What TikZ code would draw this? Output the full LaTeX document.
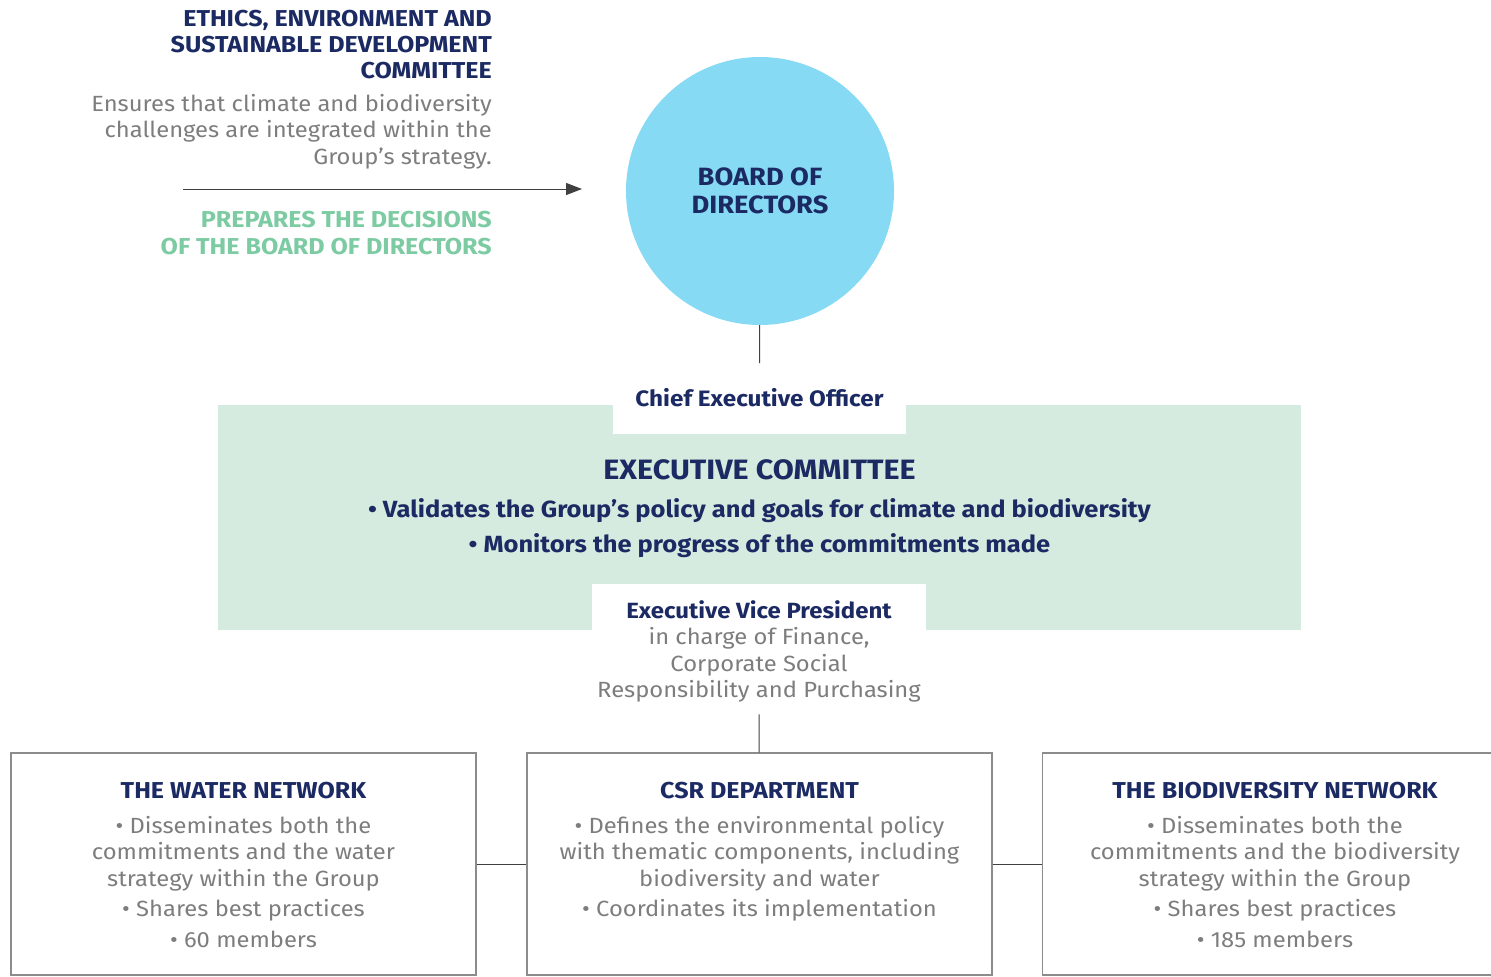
\documentclass[tikz,border=0pt]{standalone}
\usepackage{fontspec}
\setmainfont{Fira Sans}[FakeStretch=1.08,BoldFeatures={FakeStretch=1.09}]
\usetikzlibrary{arrows.meta,backgrounds}

\definecolor{navy}{HTML}{1B2A63}
\definecolor{greytext}{HTML}{7D7D7D}
\definecolor{mint}{HTML}{7CCBA2}
\definecolor{mintfill}{HTML}{D6EBDF}
\definecolor{sky}{HTML}{87DAF4}
\definecolor{boxline}{HTML}{8C8C8C}

\begin{document}
\begin{tikzpicture}[x=1pt,y=-1pt,
		heading/.style={
			font=\bfseries\fontsize{23}{26}\selectfont,text=navy,inner sep=0pt,
		},
		remark/.style={
			font=\fontsize{22}{26.5}\selectfont,text=greytext,inner sep=0pt,
		},
		tab/.style={
			fill=white,inner sep=0pt,
		},
		netbox/.style={
			draw=boxline,line width=1.2pt,minimum width=465pt,minimum height=222pt,
		},
		link/.style={
			draw=black!75,line width=1pt,
		},
	]
	\useasboundingbox (0,0) rectangle (1491,977);

	% committee preparing the board's decisions
	\node[heading,anchor=north east,align=right] (eesd) at (492,10)
		{ETHICS, ENVIRONMENT AND\\SUSTAINABLE DEVELOPMENT\\COMMITTEE};
	\node[remark,anchor=north east,align=right] (eesdtext) at (492,94)
		{Ensures that climate and biodiversity\\challenges are integrated within the\\Group’s strategy.};
	\node[heading,text=mint,anchor=north east,align=right,font=\bfseries\fontsize{23}{27}\selectfont] (prepares) at (492,211)
		{PREPARES THE DECISIONS\\OF THE BOARD OF DIRECTORS};
	\coordinate (arrowtail) at (183,189);
	\coordinate (arrowtip) at (582,189);
	\draw[link,-{Triangle[length=16pt,width=12pt]}] (arrowtail) -- (arrowtip);

	% board
	\node[circle,fill=sky,minimum size=268pt,align=center,text=navy,
		font=\bfseries\fontsize{25}{28}\selectfont] (board) at (760,191) {BOARD OF\\DIRECTORS};

	% executive committee with its two tabs
	\node[fill=mintfill,minimum width=1083pt,minimum height=225pt,inner sep=0pt] (exco) at (759.5,517.5) {};
	\node[tab,anchor=north,minimum width=293pt,minimum height=71pt] (ceo) at (759.5,363) {};
	\node[heading,font=\bfseries\fontsize{22.3}{26}\selectfont] (ceotext) at (759.5,398) {Chief Executive Officer};
	\node[heading,font=\bfseries\fontsize{28}{32}\selectfont] (excotitle) at (759.5,470) {EXECUTIVE COMMITTEE};
	\node[heading,font=\bfseries\fontsize{23.4}{35}\selectfont,align=center] (excotext) at (759.5,528)
		{• Validates the Group’s policy and goals for climate and biodiversity\\• Monitors the progress of the commitments made};
	\node[tab,anchor=north,minimum width=334pt,minimum height=130pt] (evp) at (759,584) {};
	\node[remark,align=center,anchor=north] (evptext) at (759,600)
		{{\bfseries\color{navy}Executive Vice President}\\in charge of Finance,\\Corporate Social\\Responsibility and Purchasing};
	\draw[link] (board) -- (ceo);

	% the three bottom boxes
	\node[netbox] (water) at (243.5,864) {};
	\node[netbox] (csr) at (759.5,864) {};
	\node[netbox] (biodiv) at (1275,864) {};
	\draw[link] (evp) -- (csr);
	\draw[link] (water) -- (csr);
	\draw[link] (csr) -- (biodiv);

	\node[heading] (watertitle) at (243.5,791) {THE WATER NETWORK};
	\node[remark,align=center,anchor=north] (watertext) at (243.5,816)
		{• Disseminates both the\\commitments and the water\\strategy within the Group\\[4pt]• Shares best practices\\[4pt]• 60 members};
	\node[heading] (csrtitle) at (759.5,791) {CSR DEPARTMENT};
	\node[remark,align=center,anchor=north] (csrtext) at (759.5,816)
		{• Defines the environmental policy\\with thematic components, including\\biodiversity and water\\[4pt]• Coordinates its implementation};
	\node[heading] (biodivtitle) at (1275,791) {THE BIODIVERSITY NETWORK};
	\node[remark,align=center,anchor=north] (biodivtext) at (1275,816)
		{• Disseminates both the\\commitments and the biodiversity\\strategy within the Group\\[4pt]• Shares best practices\\[4pt]• 185 members};

\end{tikzpicture}
\end{document}
